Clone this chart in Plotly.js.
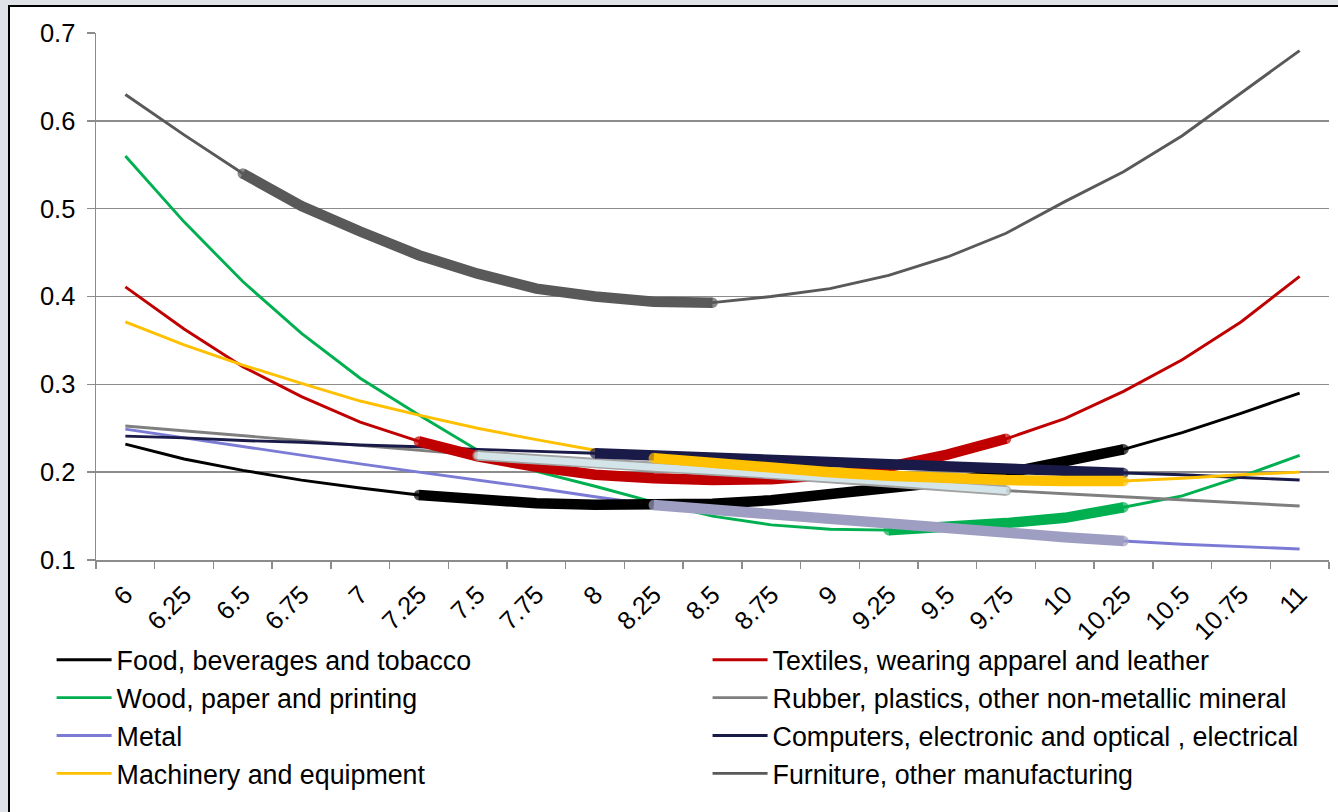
<!DOCTYPE html>
<html>
<head>
<meta charset="utf-8">
<script src="https://cdn.plot.ly/plotly-3.0.1.min.js"></script>
<style>
  html, body { margin: 0; padding: 0; background: #dfe3e8; width: 1338px; height: 812px; overflow: hidden; }
  #frame { position: absolute; left: 8px; top: 5px; width: 1340px; height: 820px; background: #ffffff; border: 2px solid #000000; }
  #chart { position: absolute; left: 0; top: 0; width: 1338px; height: 812px; }
</style>
</head>
<body>
<div id="frame"></div>
<div id="chart"></div>
<script>
// Log GDP per capita (category axis)
const categories = ['6','6.25','6.5','6.75','7','7.25','7.5','7.75','8','8.25','8.5','8.75','9','9.25','9.5','9.75','10','10.25','10.5','10.75','11'];

// Sector curves
const food      = [0.232,0.215,0.202,0.191,0.182,0.174,0.168,0.1645,0.163,0.1625,0.164,0.168,0.174,0.180,0.189,0.199,0.212,0.226,0.245,0.267,0.290];
const textiles  = [0.411,0.363,0.320,0.286,0.257,0.235,0.218,0.206,0.197,0.193,0.191,0.192,0.197,0.206,0.220,0.238,0.261,0.292,0.328,0.371,0.423];
const wood      = [0.560,0.485,0.417,0.358,0.307,0.265,0.225,0.201,0.184,0.166,0.150,0.140,0.135,0.134,0.137,0.142,0.148,0.160,0.173,0.195,0.219];
const rubber    = [0.2525,0.247,0.2415,0.236,0.2305,0.225,0.219,0.214,0.209,0.2055,0.202,0.198,0.194,0.189,0.184,0.179,0.1755,0.172,0.1685,0.165,0.1615];
const metal     = [0.249,0.239,0.229,0.219,0.2095,0.200,0.191,0.182,0.172,0.1626,0.157,0.152,0.1465,0.141,0.136,0.131,0.126,0.1216,0.118,0.115,0.1125];
const computers = [0.241,0.239,0.236,0.234,0.231,0.229,0.226,0.224,0.2215,0.219,0.217,0.214,0.211,0.209,0.206,0.203,0.201,0.199,0.197,0.194,0.191];
const machinery = [0.371,0.345,0.322,0.301,0.281,0.265,0.250,0.237,0.225,0.216,0.210,0.205,0.200,0.196,0.193,0.191,0.190,0.190,0.193,0.197,0.200];
const furniture = [0.630,0.584,0.540,0.503,0.474,0.447,0.426,0.409,0.400,0.394,0.393,0.400,0.409,0.424,0.445,0.472,0.508,0.542,0.583,0.631,0.680];

// Highlighted stretch of each curve: [first index, last index]
const foodRange      = [5, 17];
const textilesRange  = [5, 15];
const woodRange      = [13, 17];
const rubberRange    = [6, 15];
const metalRange     = [9, 17];
const computersRange = [8, 17];
const machineryRange = [9, 17];
const furnitureRange = [2, 10];

// col: which legend column the sector is listed in
const series = [
  { name: 'Food, beverages and tobacco',                     y: food,      range: foodRange,      color: '#000000', thick: '#000000', col: 'legend' },
  { name: 'Textiles, wearing apparel and leather',           y: textiles,  range: textilesRange,  color: '#c00000', thick: '#c00000', col: 'legend2' },
  { name: 'Wood, paper and printing',                        y: wood,      range: woodRange,      color: '#00b050', thick: '#00b050', col: 'legend' },
  { name: 'Rubber, plastics, other non-metallic mineral',    y: rubber,    range: rubberRange,    color: '#7f7f7f', thick: '#d3e5e8', outline: '#a3a3a3', col: 'legend2' },
  { name: 'Metal',                                           y: metal,     range: metalRange,     color: '#7b7bd5', thick: '#9e9ec2', col: 'legend' },
  { name: 'Computers, electronic and optical , electrical',  y: computers, range: computersRange, color: '#1a1a48', thick: '#1a1a48', col: 'legend2' },
  { name: 'Machinery and equipment',                         y: machinery, range: machineryRange, color: '#ffc000', thick: '#ffc000', col: 'legend' },
  { name: 'Furniture, other manufacturing',                  y: furniture, range: furnitureRange, color: '#595959', thick: '#595959', col: 'legend2' }
];

const THIN = 2.9, THICK = 10.5;

function segment(vals, r) {
  return vals.map((v, i) => (i >= r[0] && i <= r[1]) ? v : null);
}
function capSizes(vals, r, size) {
  return vals.map((v, i) => (i === r[0] || i === r[1]) ? size : 0);
}

const traces = [];
// full-range curves
series.forEach(s => {
  traces.push({
    type: 'scatter', mode: 'lines', x: categories, y: s.y, name: s.name, legend: s.col,
    line: { color: s.color, width: THIN }, showlegend: true, hoverinfo: 'skip'
  });
});
// emphasised stretches drawn on top, with rounded ends
series.forEach(s => {
  const seg = segment(s.y, s.range);
  const layers = s.outline
    ? [[s.outline, THICK], [s.thick, THICK - 3.5]]
    : [[s.thick, THICK]];
  layers.forEach(([c, w]) => {
    traces.push({
      type: 'scatter', mode: 'lines+markers', x: categories, y: seg, showlegend: false, hoverinfo: 'skip',
      line: { color: c, width: w },
      marker: { color: c, size: capSizes(s.y, s.range, w), line: { width: 0 } }
    });
  });
});

const legendBase = {
  orientation: 'v', xanchor: 'left', y: -0.144, yanchor: 'top', itemwidth: 55,
  font: { size: 26.8, color: '#000000' }, bgcolor: 'rgba(0,0,0,0)', traceorder: 'normal'
};

const layout = {
  width: 1338, height: 812,
  paper_bgcolor: 'rgba(0,0,0,0)', plot_bgcolor: '#ffffff',
  margin: { l: 96, r: 9, t: 33, b: 252 },
  font: { family: 'Liberation Sans, Arial, sans-serif', color: '#000000', size: 25 },
  showlegend: true,
  legend:  Object.assign({}, legendBase, { x: -0.036 }),
  legend2: Object.assign({}, legendBase, { x: 0.496 }),
  xaxis: {
    type: 'category', range: [-0.5, categories.length - 0.5], autorange: false,
    tickangle: -45, tickson: 'boundaries', ticks: 'outside', ticklen: 7,
    tickcolor: '#8c8c8c', tickwidth: 1.5, showline: true, linecolor: '#8c8c8c', linewidth: 1.5,
    showgrid: false, tickfont: { size: 25.5 }, ticklabelstandoff: 8, fixedrange: true
  },
  yaxis: {
    range: [0.1, 0.7], autorange: false, dtick: 0.1, tick0: 0.1, tickformat: '.1f', ticks: 'outside', ticklen: 8,
    tickcolor: '#8c8c8c', tickwidth: 1.5, showline: true, linecolor: '#8c8c8c', linewidth: 1.5,
    showgrid: true, gridcolor: '#8c8c8c', gridwidth: 1.5, zeroline: false,
    tickfont: { size: 25.5 }, ticklabelstandoff: 6, fixedrange: true
  }
};

Plotly.newPlot('chart', traces, layout, { staticPlot: true, displayModeBar: false });
</script>
</body>
</html>
